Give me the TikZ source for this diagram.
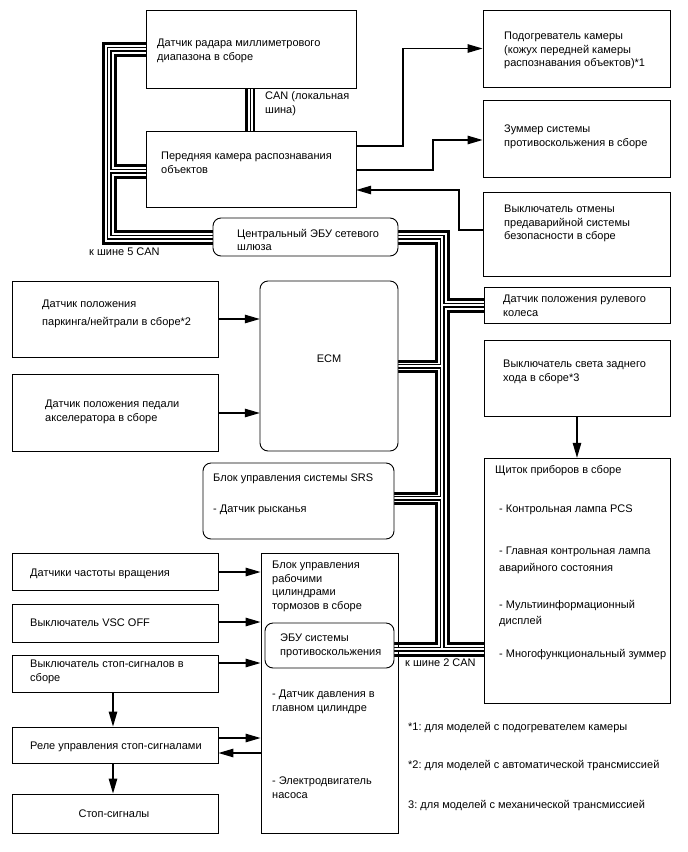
\documentclass[tikz,border=0pt]{standalone}
\usepackage{fontspec}
\setmainfont{Liberation Sans}
\usetikzlibrary{arrows.meta,fit}
\frenchspacing
\newcommand\dblpaths[1]{%
  \draw[#1] (radar.west |- 0,49) -- (109,49) -- (109,237) -- (gw.west |- 0,237);
  \draw[#1] (109,171) -- (cam.west |- 0,171);
  \draw[#1] ([xshift=1pt]radar.south) -- ([xshift=1pt]cam.north);
  \draw[#1] (gw.east |- 0,237) -- (442,237) -- (442,649);
  \draw[#1] (442,305) -- (steer.west |- 0,305);
  \draw[#1] (ecm.east |- 0,366) -- (442,366);
  \draw[#1] (srs.east |- 0,498) -- (442,498);
  \draw[#1] (skid.east |- 0,649) -- (instr.west |- 0,649);
}
\begin{document}
\frenchspacing
\begin{tikzpicture}[x=1pt,y=-1pt,
  box/.style={draw=black, line width=0.9pt, fill=white, inner sep=0pt},
  rbox/.style={box, rounded corners=8pt},
  txt/.style={inner sep=0pt, anchor=north west, align=left, yshift=-1.8pt, font=\fontsize{11}{13.5}\selectfont},
  arr/.style={line width=1.2pt, -{Triangle[length=15pt,width=8.5pt]}},
  thk/.style={line width=3pt},
  dblo/.style={line width=5pt},
  dbli/.style={line width=2.4pt, white},
]
\useasboundingbox (0,0) rectangle (688,852);
\fill[white] (0,0) rectangle (688,852);

% boxes (geometry only, for anchors)
\node[box, fit={(261,553) (398,833)}] (act) {};
\path
  node[fit={(146,10) (356,88)}, inner sep=0pt] (radar) {}
  node[fit={(146,131) (356,207)}, inner sep=0pt] (cam) {}
  node[fit={(213,218) (398,256)}, inner sep=0pt] (gw) {}
  node[fit={(260,281) (398,451)}, inner sep=0pt] (ecm) {}
  node[fit={(484,287) (670,323)}, inner sep=0pt] (steer) {}
  node[fit={(484,458) (670,703)}, inner sep=0pt] (instr) {}
  node[fit={(203,463) (394,539)}, inner sep=0pt] (srs) {}
  node[fit={(265,623) (394,668)}, inner sep=0pt] (skid) {};

% CAN bus: thick wires
\draw[thk] (radar.west |- 0,43) -- (103,43) -- (103,243) -- (gw.west |- 0,243);
\draw[thk] (radar.west |- 0,55) -- (115,55) -- (115,165) -- (cam.west |- 0,165);
\draw[thk] (cam.west |- 0,177) -- (115,177) -- (115,231) -- (gw.west |- 0,231);
\draw[thk] ([xshift=-5pt]radar.south) -- ([xshift=-5pt]cam.north);
\draw[thk] (gw.east |- 0,231) -- (448,231) -- (448,299) -- (steer.west |- 0,299);
\draw[thk] (steer.west |- 0,311) -- (448,311) -- (448,643) -- (instr.west |- 0,643);
\draw[thk] (gw.east |- 0,243) -- (436,243) -- (436,361) -- (ecm.east |- 0,361);
\draw[thk] (ecm.east |- 0,371) -- (436,371) -- (436,493) -- (srs.east |- 0,493);
\draw[thk] (srs.east |- 0,503) -- (436,503) -- (436,643) -- (skid.east |- 0,643);
\draw[thk] (skid.east |- 0,655) -- (instr.west |- 0,655);
% CAN bus: hollow wires
\dblpaths{dblo}
\dblpaths{dbli}

% visible boxes
\node[box, fit={(146,10) (356,88)}] (radarB) {};
\node[box, fit={(146,131) (356,207)}] (camB) {};
\node[rbox, fit={(213,218) (398,256)}] (gwB) {};
\node[box, fit={(483,10) (670,87)}] (heat) {};
\node[box, fit={(483,100) (670,177)}] (buzz) {};
\node[box, fit={(483,192) (670,276)}] (canc) {};
\node[box, fit={(12,281) (218,357)}] (pn) {};
\node[box, fit={(12,374) (218,451)}] (acc) {};
\node[rbox, fit={(260,281) (398,451)}] (ecmB) {};
\node[box, fit={(484,287) (670,323)}] (steerB) {};
\node[box, fit={(484,340) (670,416)}] (rev) {};
\node[box, fit={(484,458) (670,703)}] (instrB) {};
\node[rbox, fit={(203,463) (394,539)}] (srsB) {};
\node[rbox, fit={(265,623) (394,668)}] (skidB) {};
\node[box, fit={(12,553) (218,590)}] (spd) {};
\node[box, fit={(12,604) (218,642)}] (vsc) {};
\node[box, fit={(12,655) (218,692)}] (ssw) {};
\node[box, fit={(12,727) (218,763)}] (rel) {};
\node[box, fit={(12,794) (218,833)}] (lights) {};

% arrows
\draw[arr] (cam.east |- 0,146) -- (403,146) |- (heat.west);
\draw[arr] (cam.east |- 0,170) -- (433,170) |- (buzz.west |- 0,140);
\draw[arr] (canc.west |- 0,230) -- (459,230) |- (cam.east |- 0,190);
\draw[arr] (pn.east |- 0,319) -- (ecm.west |- 0,319);
\draw[arr] (acc.east |- 0,413) -- (ecm.west |- 0,413);
\draw[arr] (spd.east |- 0,572) -- (act.west |- 0,572);
\draw[arr] (vsc.east |- 0,622) -- (act.west |- 0,622);
\draw[arr] (ssw.east |- 0,663) -- (act.west |- 0,663);
\draw[arr] (rel.east |- 0,738) -- (act.west |- 0,738);
\draw[arr] (act.west |- 0,753) -- (rel.east |- 0,753);
\draw[arr] ([xshift=-2pt]ssw.south) -- ([xshift=-2pt]rel.north);
\draw[arr] ([xshift=-2pt]rel.south) -- ([xshift=-2pt]lights.north);
\draw[arr] (rev.south) -- (instr.north);

% texts
\node[txt] (t-radar) at (157,37) {Датчик радара миллиметрового\\диапазона в сборе};
\node[txt] (t-can) at (265,90) {CAN (локальная\\шина)};
\node[txt] (t-cam) at (161,150) {Передняя камера распознавания\\объектов};
\node[txt] (t-gw) at (237,227) {Центральный ЭБУ сетевого\\шлюза};
\node[txt] (t-bus5) at (89,246) {к шине 5 CAN};
\node[txt] (t-heat) at (504,30) {Подогреватель камеры\\(кожух передней камеры\\распознавания объектов)*1};
\node[txt] (t-buzz) at (504,123) {Зуммер системы\\противоскольжения в сборе};
\node[txt] (t-canc) at (504,203) {Выключатель отмены\\предаварийной системы\\безопасности в сборе};
\node[txt] (t-pn) at (42,298) {Датчик положения\\[4.5pt]паркинга/нейтрали в сборе*2};
\node[txt] (t-acc) at (45,398) {Датчик положения педали\\акселератора в сборе};
\node[txt, anchor=center] (t-ecm) at (329,357) {ECM};
\node[txt] (t-steer) at (503,293) {Датчик положения рулевого\\колеса};
\node[txt] (t-rev) at (503,358) {Выключатель света заднего\\хода в сборе*3};
\node[txt] (t-instr) at (495,463) {Щиток приборов в сборе};
\node[txt] (t-instr1) at (499,503) {- Контрольная лампа PCS};
\node[txt] (t-instr2) at (499,545) {- Главная контрольная лампа\\[3pt]аварийного состояния};
\node[txt] (t-instr3) at (499,598) {- Мультиинформационный\\[3pt]дисплей};
\node[txt] (t-instr4) at (499,647) {- Многофункциональный зуммер};
\node[txt] (t-srs) at (213,472) {Блок управления системы SRS};
\node[txt] (t-srs1) at (213,503) {- Датчик рысканья};
\node[txt] (t-act) at (272,559) {Блок управления\\рабочими\\цилиндрами\\тормозов в сборе};
\node[txt] (t-act1) at (272,688) {- Датчик давления в\\главном цилиндре};
\node[txt] (t-act2) at (272,775) {- Электродвигатель\\насоса};
\node[txt] (t-skid) at (280,632) {ЭБУ системы\\противоскольжения};
\node[txt] (t-bus2) at (405,657) {к шине 2 CAN};
\node[txt] (t-spd) at (30,567) {Датчики частоты вращения};
\node[txt] (t-vsc) at (30,617) {Выключатель VSC OFF};
\node[txt] (t-ssw) at (30,658) {Выключатель стоп-сигналов в\\сборе};
\node[txt] (t-rel) at (30,740) {Реле управления стоп-сигналами};
\node[txt, anchor=center] (t-lights) at (114,812) {Стоп-сигналы};
\node[txt] (t-n1) at (408,720) {*1: для моделей с подогревателем камеры};
\node[txt] (t-n2) at (408,758) {*2: для моделей с автоматической трансмиссией};
\node[txt] (t-n3) at (408,798) {3: для моделей с механической трансмиссией};
\end{tikzpicture}
\end{document}
